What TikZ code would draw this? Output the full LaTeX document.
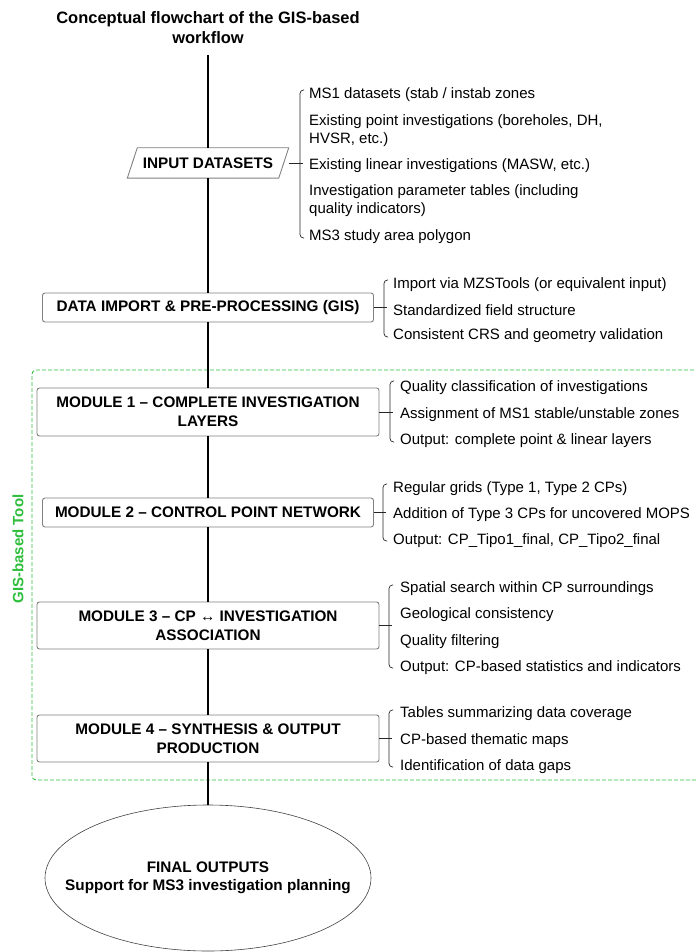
\documentclass[tikz,border=0pt]{standalone}
\usepackage{fontspec}
\setmainfont{Liberation Sans}
\usetikzlibrary{shapes.geometric}
\definecolor{gisgreen}{RGB}{46,190,60}
\definecolor{boxgray}{RGB}{128,128,128}
\begin{document}
\begin{tikzpicture}[x=1pt,y=-1pt,
  box/.style={draw=boxgray, fill=white, rounded corners=2.5pt, line width=0.9pt,
    font=\fontsize{15.3}{19}\selectfont\bfseries, align=center, inner sep=0pt},
  item/.style={anchor=west, font=\fontsize{15}{18}\selectfont, align=left, inner sep=0pt, yshift=-2pt},
  spine/.style={line width=1.5pt, black},
  tick/.style={line width=0.7pt, black!85},
  brk/.style={line width=0.7pt, black!85, rounded corners=3.5pt},
  gisframe/.style={draw=gisgreen, line width=0.9pt, dash pattern=on 4pt off 2pt, rounded corners=4pt}]
\useasboundingbox (0,0) rectangle (696,952);
\clip (0,0) rectangle (696,952);

% title
\node[font=\fontsize{16.5}{20}\selectfont\bfseries, align=center] (title) at (208,28)
  {Conceptual flowchart of the GIS-based\\workflow};
\coordinate (top) at (208,55);

% green frame
\draw[gisframe] (730,370) -- (32,370) -- (32,780) -- (730,780);
\node[rotate=90, text=gisgreen, font=\fontsize{15}{18}\selectfont\bfseries] (gislabel) at (18,549) {GIS-based Tool};

% input datasets (parallelogram)
\node[minimum width=161pt, minimum height=30pt, inner sep=0pt,
  font=\fontsize{15.3}{19}\selectfont\bfseries] (input) at (208,163) {INPUT DATASETS};
\draw[draw=boxgray, line width=0.9pt] (input.south west) -- ([xshift=10pt]input.north west)
  -- (input.north east) -- ([xshift=-10pt]input.south east) -- cycle;

\node[box, minimum width=331pt, minimum height=29pt] (imp) at (208,307.5) {DATA IMPORT \& PRE-PROCESSING (GIS)};
\node[box, minimum width=342pt, minimum height=48pt] (m1) at (208,412) {MODULE 1 – COMPLETE INVESTIGATION\\LAYERS};
\node[box, minimum width=331pt, minimum height=29pt] (m2) at (208,512.5) {MODULE 2 – CONTROL POINT NETWORK};
\node[box, minimum width=342pt, minimum height=47pt] (m3) at (208,625.5) {MODULE 3 – CP ↔ INVESTIGATION\\ASSOCIATION};
\node[box, minimum width=342pt, minimum height=47pt] (m4) at (208,738.5) {MODULE 4 – SYNTHESIS \& OUTPUT\\PRODUCTION};
\node[ellipse, draw=black!75, line width=0.6pt, minimum width=326pt, minimum height=146pt, inner sep=0pt]
  (final) at (208,878) {};
\node[font=\fontsize{15.3}{18}\selectfont\bfseries, align=center, inner sep=0pt] (finaltext) at (final.center)
  {FINAL OUTPUTS\\Support for MS3 investigation planning};

% spine
\draw[spine] (top) -- (input.north);
\draw[spine] (input.south) -- (imp.north);
\draw[spine] (imp.south) -- (m1.north);
\draw[spine] (m1.south) -- (m2.north);
\draw[spine] (m2.south) -- (m3.north);
\draw[spine] (m3.south) -- (m4.north);
\draw[spine] (m4.south) -- (final.north);

% input items
\node[item] (i1) at (309,93) {MS1 datasets (stab / instab zones};
\node[item] (i2) at (309,129) {Existing point investigations (boreholes, DH,\\HVSR, etc.)};
\node[item] (i3) at (309,164) {Existing linear investigations (MASW, etc.)};
\node[item] (i4) at (309,199) {Investigation parameter tables (including\\quality indicators)};
\node[item] (i5) at (309,235) {MS3 study area polygon};
\draw[brk] (304,90) -- (300,90) -- (300,238) -- (304,238);
\coordinate (bi) at (303,163);
\draw[tick] (input.east) -- (bi);

% import items
\node[item] (p1) at (393,283) {Import via MZSTools (or equivalent input)};
\node[item] (p2) at (393,308) {Standardized field structure};
\node[item] (p3) at (393,334) {Consistent CRS and geometry validation};
\draw[brk] (388,280) -- (384,280) -- (384,337) -- (388,337);
\coordinate (bp) at (387,307.5);
\draw[tick] (imp.east) -- (bp);

% module 1 items
\node[item] (a1) at (400,386) {Quality classification of investigations};
\node[item] (a2) at (400,413) {Assignment of MS1 stable/unstable zones};
\node[item] (a3) at (400,439) {Output: complete point \& linear layers};
\draw[brk] (394,381) -- (390,381) -- (390,442) -- (394,442);
\coordinate (ba) at (393,412);
\draw[tick] (m1.east) -- (ba);

% module 2 items
\node[item] (b1) at (393,487) {Regular grids (Type 1, Type 2 CPs)};
\node[item] (b2) at (393,513) {Addition of Type 3 CPs for uncovered MOPS};
\node[item] (b3) at (393,539) {Output: CP\_Tipo1\_final, CP\_Tipo2\_final};
\draw[brk] (387,484) -- (383,484) -- (383,541) -- (387,541);
\coordinate (bb) at (386,512.5);
\draw[tick] (m2.east) -- (bb);

% module 3 items
\node[item] (c1) at (400,587) {Spatial search within CP surroundings};
\node[item] (c2) at (400,613) {Geological consistency};
\node[item] (c3) at (400,640) {Quality filtering};
\node[item] (c4) at (400,666) {Output: CP-based statistics and indicators};
\draw[brk] (393,585) -- (389,585) -- (389,668) -- (393,668);
\coordinate (bc) at (392,625.5);
\draw[tick] (m3.east) -- (bc);

% module 4 items
\node[item] (d1) at (400,712) {Tables summarizing data coverage};
\node[item] (d2) at (400,739) {CP-based thematic maps};
\node[item] (d3) at (400,765) {Identification of data gaps};
\draw[brk] (393,710) -- (389,710) -- (389,767) -- (393,767);
\coordinate (bd) at (392,738.5);
\draw[tick] (m4.east) -- (bd);
\end{tikzpicture}
\end{document}
